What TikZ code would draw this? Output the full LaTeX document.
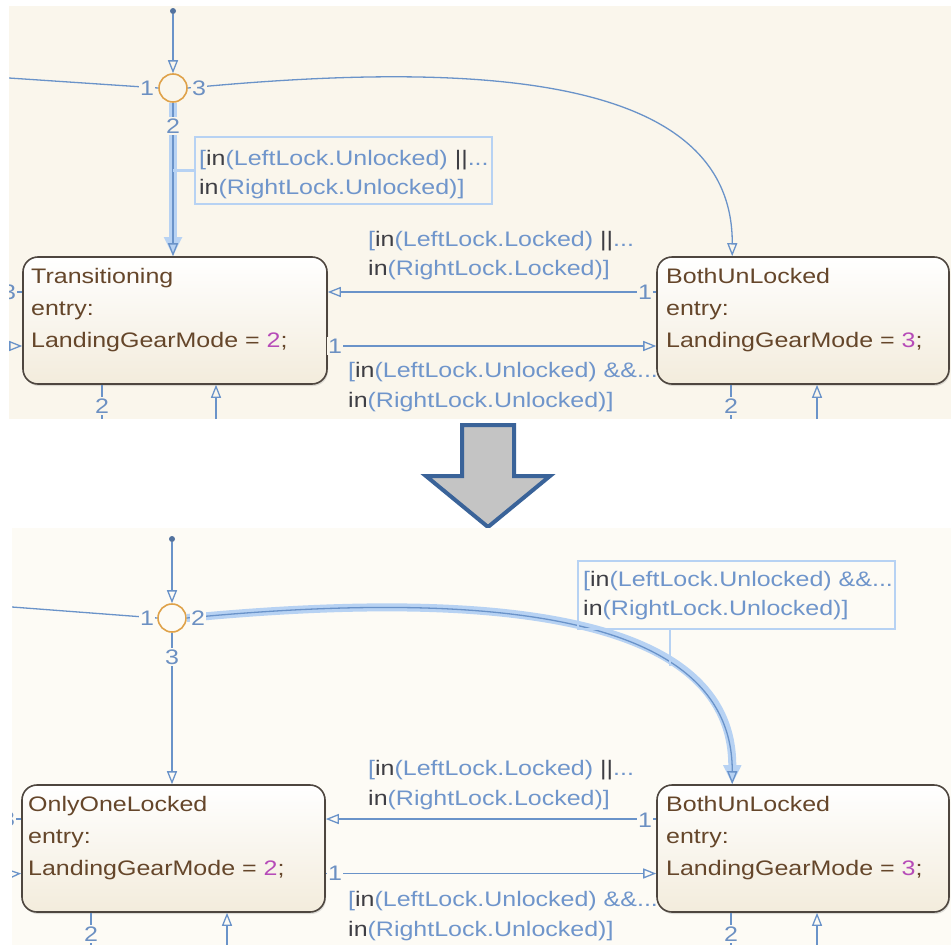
\documentclass[tikz,border=0pt]{standalone}
\usepackage{fontspec}
\setmainfont{Liberation Sans}[FakeStretch=1.19]
\usetikzlibrary{arrows.meta,calc,shadows}

\definecolor{bgA}{HTML}{FAF6EC}
\definecolor{bgB}{HTML}{FDFBF5}
\definecolor{trc}{HTML}{6A93C9}
\definecolor{halofc}{HTML}{B7D2F3}
\definecolor{stborder}{HTML}{4E463F}
\definecolor{stbot}{HTML}{F3ECDC}
\definecolor{sttext}{HTML}{65462A}
\definecolor{magn}{HTML}{B64BB8}
\definecolor{lblc}{HTML}{6F95CB}
\definecolor{kwc}{HTML}{3E3E44}
\definecolor{numc}{HTML}{6C90C2}
\definecolor{junc}{HTML}{DFA24A}
\definecolor{dotc}{HTML}{52729E}
\definecolor{bigfill}{HTML}{C4C4C4}
\definecolor{bigedge}{HTML}{3A6399}

\newcommand{\kw}[1]{\textcolor{kwc}{#1}}
\newcommand{\mg}[1]{\textcolor{magn}{#1}}

\begin{document}
\begin{tikzpicture}[x=1pt,y=-1pt,font=\fontsize{21}{29}\selectfont,
  state/.style={draw=stborder,line width=1.6pt,rounded corners=15pt,
    top color=white,bottom color=stbot,inner sep=0pt,
    drop shadow={shadow xshift=1pt,shadow yshift=-2pt,opacity=0.25}},
  stxt/.style={text=sttext,anchor=base west,inner sep=0pt},
  lbl/.style={text=lblc,anchor=base west,inner sep=0pt},
  numA/.style={text=numc,fill=bgA,inner sep=1.5pt},
  numB/.style={text=numc,fill=bgB,inner sep=1.5pt},
  tr/.style={draw=trc,line width=1.3pt},
  otip/.style={-{Triangle[open,length=13pt,width=10pt]}},
  halo/.style={draw=halofc,line width=8pt,-{Triangle[length=19pt,width=17pt]}},
  junction/.style={circle,draw=junc,line width=1.6pt,minimum size=28pt,inner sep=0pt},
  dot/.style={circle,fill=dotc,minimum size=6pt,inner sep=0pt},
  lbox/.style={draw=halofc,line width=1.6pt,inner sep=0pt},
  link/.style={draw=halofc,line width=2.5pt}]

\fill[white] (0,0) rectangle (951,945);
\useasboundingbox (0,0) rectangle (951,945);

% ---------------- upper chart ----------------
\begin{scope}
\clip (9,6) rectangle (951,419);
\fill[bgA] (9,6) rectangle (951,419);

\node[dot] (d1) at (173,11) {};
\node[junction] (j1) at (173,88) {};
\node[state,minimum width=304pt,minimum height=127pt] (t1) at (175,320.5) {};
\node[state,minimum width=292pt,minimum height=127pt] (bu1) at (803,320.5) {};

\node[stxt] (t1a) at (31,283) {Transitioning};
\node[stxt] (t1b) at (31,315) {entry:};
\node[stxt] (t1c) at (31,347) {LandingGearMode = \mg{2};};
\node[stxt] (bu1a) at (666,283) {BothUnLocked};
\node[stxt] (bu1b) at (666,315) {entry:};
\node[stxt] (bu1c) at (666,347) {LandingGearMode = \mg{3};};

\coordinate (lA) at (9,78);
\coordinate (inA1) at (9,292);
\coordinate (inA2) at (9,346);
\coordinate (dnA1) at (102,419);
\coordinate (upA1) at (216,419);
\coordinate (dnA2) at (731,419);
\coordinate (upA2) at (817,419);

% default transition and junction links
\draw[tr,otip] (d1) -- (j1);
\draw[tr] (lA) -- (j1.west);
\draw[tr,otip] (j1.east) .. controls (480,60) and (733,75) .. ($(bu1.north west)+(76,0)$);

% highlighted path into Transitioning
\draw[halo] (j1.south) -- (j1.south |- t1.north);
\draw[tr,otip] (j1.south) -- (j1.south |- t1.north);

% guard label of the highlighted path
\node[lbox,minimum width=297pt,minimum height=67pt] (lb1) at (343.5,170.5) {};
\draw[link] (lb1.west) -- (lb1.west -| j1);
\node[lbl] (lb1a) at (199,165) {[\kw{in}(LeftLock.Unlocked) \kw{||}...};
\node[lbl] (lb1b) at (199,194) {\kw{in}(RightLock.Unlocked)]};

% transitions between the two states
\draw[tr,otip] ([yshift=28.5pt]bu1.west) -- ([yshift=28.5pt]t1.east);
\draw[tr,otip] ([yshift=-25.5pt]t1.east) -- ([yshift=-25.5pt]bu1.west);
\node[lbl] (g1a) at (368,246) {[\kw{in}(LeftLock.Locked) \kw{||}...};
\node[lbl] (g1b) at (368,275) {\kw{in}(RightLock.Locked)]};
\node[lbl] (g2a) at (348,377) {[\kw{in}(LeftLock.Unlocked) \&\&...};
\node[lbl] (g2b) at (348,407) {\kw{in}(RightLock.Unlocked)]};

% stubs leaving the visible area
\draw[tr] ([yshift=28.5pt]t1.west) -- ([yshift=28.5pt]t1.west -| inA1);
\draw[tr,otip] (inA2) -- ([yshift=-25.5pt]t1.west);
\draw[tr] (dnA1 |- t1.south) -- (dnA1);
\draw[tr,otip] (upA1) -- (upA1 |- t1.south);
\draw[tr] (dnA2 |- bu1.south) -- (dnA2);
\draw[tr,otip] (upA2) -- (upA2 |- bu1.south);

% execution order numbers
\node[numA] (nA1) at (147,88) {1};
\node[numA] (nA2) at (173,126) {2};
\node[numA] (nA3) at (199,88) {3};
\node[numA] (nA4) at (645,292) {1};
\node[numA] (nA5) at (335,346) {1};
\node[numA] (nA6) at (102,406) {2};
\node[numA] (nA7) at (731,406) {2};
\node[numA] (nA8) at (9,292) {3};
\end{scope}

% ---------------- big arrow ----------------
\draw[fill=bigfill,draw=bigedge,line width=4pt,line join=miter]
  (462,425) -- (514,425) -- (514,476) -- (550,476) -- (488,527)
  -- (426,476) -- (462,476) -- cycle;

% ---------------- lower chart ----------------
\begin{scope}
\clip (12,528) rectangle (951,945);
\fill[bgB] (12,528) rectangle (951,945);

\node[dot] (d2) at (172,539) {};
\node[junction] (j2) at (172,618) {};
\node[state,minimum width=303pt,minimum height=127pt] (o2) at (173.5,848.5) {};
\node[state,minimum width=292pt,minimum height=127pt] (bu2) at (803,848.5) {};

\node[stxt] (o2a) at (28,811) {OnlyOneLocked};
\node[stxt] (o2b) at (28,843) {entry:};
\node[stxt] (o2c) at (28,875) {LandingGearMode = \mg{2};};
\node[stxt] (bu2a) at (666,811) {BothUnLocked};
\node[stxt] (bu2b) at (666,843) {entry:};
\node[stxt] (bu2c) at (666,875) {LandingGearMode = \mg{3};};

\coordinate (lB) at (12,607);
\coordinate (inB1) at (12,819);
\coordinate (inB2) at (12,874);
\coordinate (dnB1) at (91,945);
\coordinate (upB1) at (227,945);
\coordinate (dnB2) at (731,945);
\coordinate (upB2) at (817,945);

\draw[tr,otip] (d2) -- (j2);
\draw[tr] (lB) -- (j2.west);
\draw[tr,otip] (j2.south) -- (j2.south |- o2.north);

% highlighted path into BothUnLocked
\draw[halo] (j2.east) .. controls (480,590) and (733,610) .. ($(bu2.north west)+(76,0)$);
\draw[tr,otip] (j2.east) .. controls (480,590) and (733,610) .. ($(bu2.north west)+(76,0)$)
  coordinate[pos=0.7] (cc);

\node[lbox,minimum width=317pt,minimum height=68pt] (lb2) at (736.5,595) {};
\draw[link] (cc |- lb2.south) -- (cc);
\node[lbl] (lb2a) at (583,586) {[\kw{in}(LeftLock.Unlocked) \&\&...};
\node[lbl] (lb2b) at (583,615) {\kw{in}(RightLock.Unlocked)]};

\draw[tr,otip] ([yshift=29.5pt]bu2.west) -- ([yshift=29.5pt]o2.east);
\draw[tr,otip] ([yshift=-25pt]o2.east) -- ([yshift=-25pt]bu2.west);
\node[lbl] (g3a) at (368,775) {[\kw{in}(LeftLock.Locked) \kw{||}...};
\node[lbl] (g3b) at (368,805) {\kw{in}(RightLock.Locked)]};
\node[lbl] (g4a) at (348,906) {[\kw{in}(LeftLock.Unlocked) \&\&...};
\node[lbl] (g4b) at (348,936) {\kw{in}(RightLock.Unlocked)]};

\draw[tr] ([yshift=29.5pt]o2.west) -- ([yshift=29.5pt]o2.west -| inB1);
\draw[tr,otip] (inB2) -- ([yshift=-25pt]o2.west);
\draw[tr] (dnB1 |- o2.south) -- (dnB1);
\draw[tr,otip] (upB1) -- (upB1 |- o2.south);
\draw[tr] (dnB2 |- bu2.south) -- (dnB2);
\draw[tr,otip] (upB2) -- (upB2 |- bu2.south);

\node[numB] (nB1) at (147,618) {1};
\node[numB] (nB2) at (198,618) {2};
\node[numB] (nB3) at (172,657) {3};
\node[numB] (nB4) at (645,820) {1};
\node[numB] (nB5) at (335,873) {1};
\node[numB] (nB6) at (91,934) {2};
\node[numB] (nB7) at (731,934) {2};
\node[numB] (nB8) at (8,819) {3};
\end{scope}
\end{tikzpicture}
\end{document}
